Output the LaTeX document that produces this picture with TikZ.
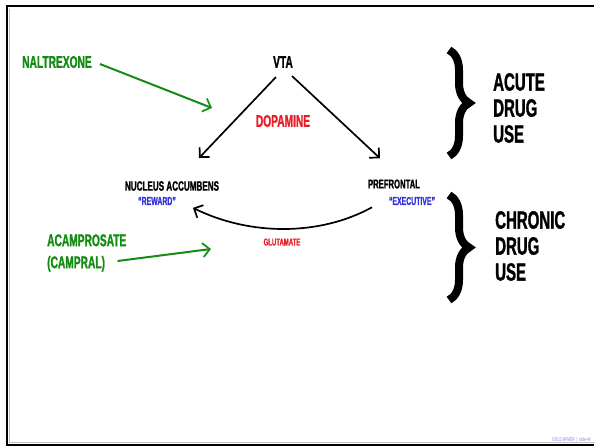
\documentclass[tikz,border=0pt]{standalone}
\usepackage{fontspec}
\setmainfont{Liberation Sans}[FakeStretch=0.6,BoldFeatures={FakeBold=1.2}]
\usetikzlibrary{arrows.meta,decorations.pathreplacing}
\definecolor{drugGreen}{RGB}{20,140,20}
\definecolor{chemRed}{RGB}{230,30,40}
\definecolor{tagBlue}{RGB}{50,50,220}
\begin{document}
\begin{tikzpicture}[x=1pt,y=-1pt,
    lbl/.style={font=\bfseries\fontsize{#1}{#1}\selectfont,inner sep=0pt},
    lbl/.default=13,
    big/.style={font=\bfseries\fontsize{25}{26}\selectfont,inner sep=0pt,align=left,anchor=west},
    path/.style={line width=1.7pt,-{Straight Barb[length=7pt,width=14pt,line width=1.7pt]}},
    drug/.style={path,drugGreen,line width=2pt},
    brace/.style={decorate,decoration={brace,amplitude=20pt,aspect=0.5},line width=8pt}]
  \useasboundingbox (0,0) rectangle (594,447);
  % frame
  \draw[line width=2.4pt] (7,6) rectangle (620,445);
  \draw[gray!50,line width=1pt] (9.6,8.6) -- (9.6,442.4) -- (620,442.4);
  % brain regions
  \node[lbl=17] (vta) at (283,62) {VTA};
  \node[lbl=13.5] (nac) at (172,186) {NUCLEUS ACCUMBENS};
  \node[lbl=12.8] (pfc) at (394,184) {PREFRONTAL};
  \node[lbl=11.5,tagBlue] (reward) at (157,201) {``REWARD''};
  \node[lbl=11.5,tagBlue] (exec) at (412,201) {``EXECUTIVE''};
  % transmitters
  \node[lbl=17,chemRed] (dopa) at (283,121) {DOPAMINE};
  \node[lbl=10,chemRed] (glut) at (282,242) {GLUTAMATE};
  % drugs
  \node[lbl=17,drugGreen,anchor=west] (naltrexone) at (22,62) {NALTREXONE};
  \node[lbl=17,drugGreen,anchor=west,align=left,font=\bfseries\fontsize{17}{22}\selectfont] (acamp) at (47,253) {ACAMPROSATE\\(CAMPRAL)};
  \coordinate (naltrexone-hit) at (212,108);
  \coordinate (acamp-hit) at (211,249);
  % stages
  \node[big] (acute) at (493,108) {ACUTE\\DRUG\\USE};
  \node[big] (chronic) at (495,246) {CHRONIC\\DRUG\\USE};
  \begin{scope}
    \draw[path] ([shift={(3,9)}]vta.south west) to ([shift={(27,-23)}]nac.north);
    \draw[path] ([shift={(-1,8)}]vta.south east) to ([shift={(-14,-21)}]pfc.north);
    \draw[path] ([shift={(-40,2)}]exec.south) .. controls (320,236) and (250,236) .. ([shift={(36,11)}]reward.north);
    \draw[drug] ([xshift=8pt,yshift=-2pt]naltrexone.east) to (naltrexone-hit);
    \draw[drug] ([shift={(-9,8)}]acamp.east) to (acamp-hit);
    \draw[brace] (449,50) to (449,156);
    \draw[brace] (449,195) to (449,300);
  \end{scope}
  \node[lbl=5.5,tagBlue!60,anchor=east] (credit) at (591,440) {\normalfont\fontsize{5.5}{6}\selectfont ©2011 MFMER \,|\, slide-44};
\end{tikzpicture}
\end{document}
